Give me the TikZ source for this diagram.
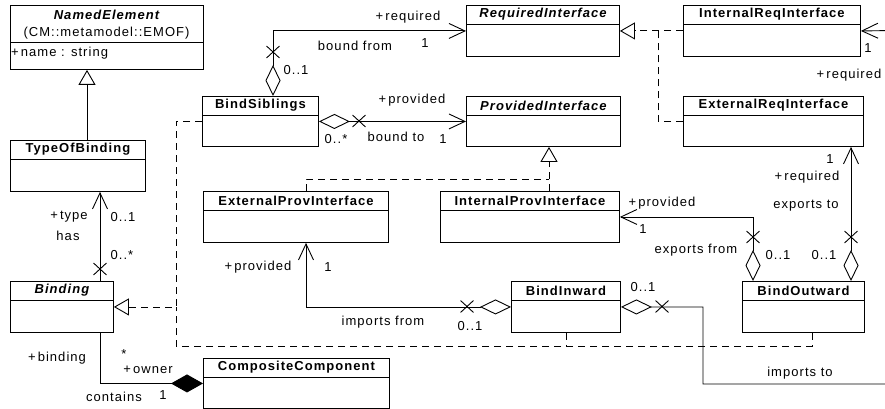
\documentclass[tikz,border=0pt]{standalone}
\usepackage{fontspec}
\setmainfont[LetterSpace=8]{Liberation Sans}
\usetikzlibrary{arrows.meta,shapes.misc,calc}

\tikzset{
  x=1pt, y=-1pt,
  every node/.style={inner sep=0pt, font=\fontsize{13}{15}\selectfont},
  conn/.style={line width=0.9pt},
  cls/.style={draw, conn, fill=white},
  ttl/.style={font=\fontsize{13}{15}\selectfont\bfseries},
  attl/.style={font=\fontsize{13}{15}\selectfont\bfseries\itshape},
  lbl/.style={font=\fontsize{13}{15}\selectfont},
  xmark/.style={draw, conn, cross out, minimum width=12pt, minimum height=11pt},
  agg/.style={conn, {Diamond[open,length=31pt,width=15pt]}-{Straight Barb[length=16pt,width=15pt]}},
  nav/.style={conn, -{Straight Barb[length=16pt,width=15pt]}},
  comp/.style={conn, {Diamond[length=32pt,width=18pt]}-},
  gen/.style={conn, -{Triangle[open,length=15pt,width=17pt]}},
  dashline/.style={conn, dash pattern=on 7pt off 5pt},
  real/.style={dashline, -{Triangle[open,length=15pt,width=17pt]}},
}

% [title style]{name}{x}{y}{width}{height}{title}
\newcommand\umlclass[7][ttl]{%
  \node[cls, minimum width=#5pt, minimum height=#6pt, anchor=north west] (#2) at (#3,#4) {};
  \draw[conn] ($(#2.north west)+(0,19)$) -- ($(#2.north east)+(0,19)$);
  \node[#1] (#2-title) at ($(#2.north)+(0,9.5)$) {#7};
}

\begin{document}
\begin{tikzpicture}
\useasboundingbox (0,0) rectangle (885,409);
\fill[white] (0,0) rectangle (885,409);
\clip (0,0) rectangle (885,409);

% ---------- classes ----------
\node[cls, minimum width=193pt, minimum height=64pt, anchor=north west] (ne) at (10,5) {};
\draw[conn] ($(ne.north west)+(0,37)$) -- ($(ne.north east)+(0,37)$);
\node[attl] (ne-title) at (106.5,15) {NamedElement};
\node[lbl] (ne-pkg) at (106.5,33) {(CM::metamodel::EMOF)};
\node[lbl, anchor=west] (ne-attr) at (11,53) {+\,name : string};

\umlclass{tb}{10}{140}{135}{51}{TypeOfBinding}
\umlclass[attl]{bd}{10}{281}{103}{51}{Binding}
\umlclass{cc}{203}{358}{186}{50}{CompositeComponent}
\umlclass{bs}{202}{96}{116}{50}{BindSiblings}
\umlclass[attl]{ri}{466}{5}{153}{51}{RequiredInterface}
\umlclass[attl]{pi}{466}{96}{154}{50}{ProvidedInterface}
\umlclass{ir}{683}{5}{177}{51}{InternalReqInterface}
\umlclass{er}{683}{96}{180}{50}{ExternalReqInterface}
\umlclass{ep}{203}{191}{185}{51}{ExternalProvInterface}
\umlclass{ip}{440}{191}{179}{51}{InternalProvInterface}
\umlclass{bi}{511}{281}{109}{51}{BindInward}
\umlclass{bo}{742}{281}{122}{51}{BindOutward}

% ---------- junction points ----------
\coordinate (jbd) at (176,346);
\coordinate (jri) at (658,30.5);
\coordinate (jpi) at (549,179);
\coordinate (ri1) at (703,384);
\coordinate (ri2) at (895,384);
\coordinate (ri3) at (895,30.5);

% ---------- generalisation / realisation ----------
\draw[gen] (87,0 |- tb.north) -- (87,0 |- ne.south);

\draw[real] (bs.west) -- ++(-26,0) |- (bd.east);
\draw[dashline] (812,0 |- bo.south) |- (jbd) -- (176,0 |- bd.east);
\draw[dashline] (bi.south) -- (bi.south |- jbd);

\draw[real] (ir.west) -- (ri.east);
\draw[dashline] (er.west) -| (jri);

\draw[real] (549,0 |- ip.north) -- (549,0 |- pi.south);
\draw[dashline] (306,0 |- ep.north) |- (jpi);

% ---------- associations ----------
\draw[nav] (100,0 |- bd.north) -- (100,0 |- tb.south);
\node[xmark] (x-bd) at ($(100,0 |- bd.north)+(0,-12)$) {};

\draw[comp] (cc.west) -| (100,0 |- bd.south);

\draw[agg] (273,0 |- bs.north) |- (ri.west);
\node[xmark] (x-bs1) at (273,52) {};

\draw[agg] (bs.east) -- (pi.west);
\node[xmark] (x-bs2) at (359,121) {};

\draw[agg] (bi.west) -| (306,0 |- ep.south);
\node[xmark] (x-bi1) at (467,306.5) {};

\draw[agg] (bi.east) -| (ri1) -- (ri2) -- (ri3) -- (ir.east);
\node[xmark] (x-bi2) at (662,306.5) {};

\draw[agg] (753,0 |- bo.north) |- (ip.east);
\node[xmark] (x-bo1) at (753,237) {};

\draw[agg] (851,0 |- bo.north) -- (851,0 |- er.south);
\node[xmark] (x-bo2) at (851,237) {};

% ---------- labels ----------
\node[lbl] (l1) at (408,17) {+\,required};
\node[lbl] (l2) at (355,46) {bound from};
\node[lbl] (l3) at (425,43) {1};
\node[lbl] (l4) at (296,70) {0..1};

\node[lbl] (l5) at (412,100) {+\,provided};
\node[lbl] (l6) at (396,137) {bound to};
\node[lbl] (l7) at (336,139) {0..*};
\node[lbl] (l8) at (443,139) {1};

\node[lbl] (l9) at (69,217) {+\,type};
\node[lbl] (l10) at (68,236) {has};
\node[lbl] (l11) at (123,217) {0..1};
\node[lbl] (l12) at (122,255) {0..*};

\node[lbl] (l13) at (57,358) {+\,binding};
\node[lbl] (l14) at (124,354) {*};
\node[lbl] (l15) at (148,370) {+\,owner};
\node[lbl] (l16) at (114,397) {contains};
\node[lbl] (l17) at (163,395) {1};

\node[lbl] (l18) at (258,267) {+\,provided};
\node[lbl] (l19) at (328,267) {1};
\node[lbl] (l20) at (383,322) {imports from};
\node[lbl] (l21) at (470,326) {0..1};

\node[lbl] (l22) at (643,287) {0..1};
\node[lbl] (l23) at (800,373) {imports to};

\node[lbl] (l24) at (830,159) {1};
\node[lbl] (l25) at (807,177) {+\,required};
\node[lbl] (l26) at (806,206) {exports to};

\node[lbl] (l27) at (662,203) {+\,provided};
\node[lbl] (l28) at (643,229) {1};
\node[lbl] (l29) at (696,250) {exports from};
\node[lbl] (l30) at (778,255) {0..1};
\node[lbl] (l31) at (824,255) {0..1};

\node[lbl] (l32) at (868,48) {1};
\node[lbl] (l33) at (849,75) {+\,required};
\end{tikzpicture}
\end{document}
